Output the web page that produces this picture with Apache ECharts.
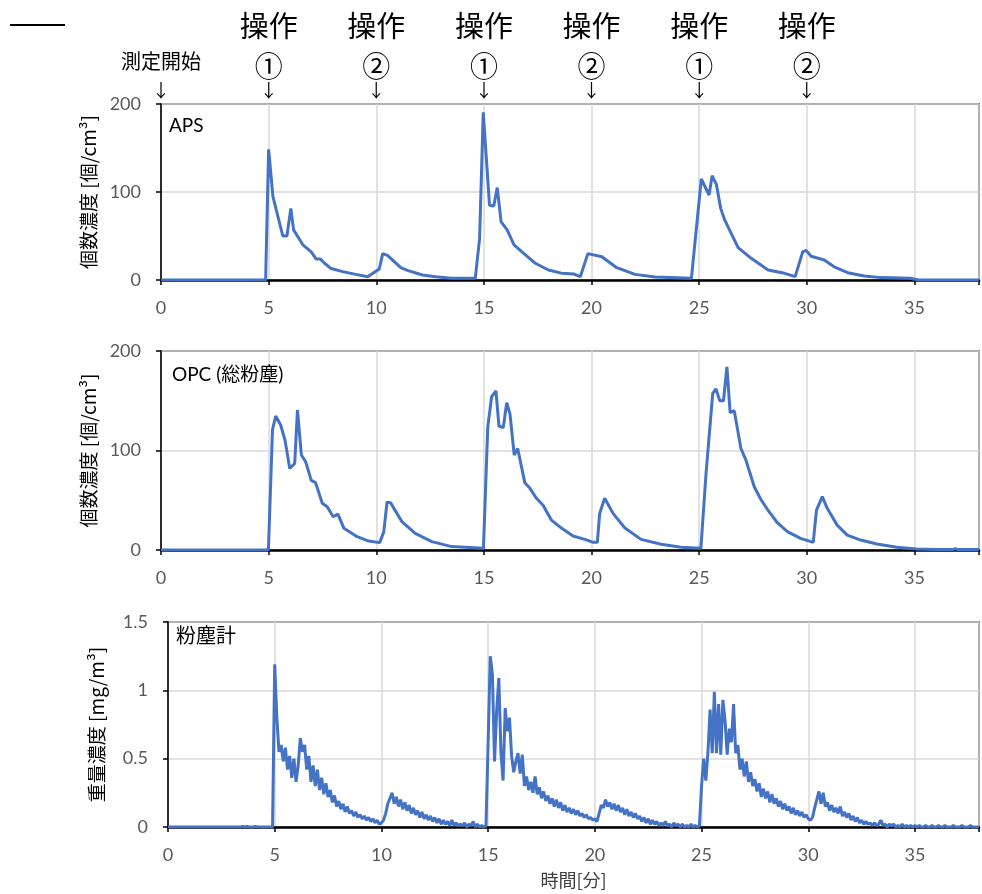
<!DOCTYPE html>
<html><head><meta charset="utf-8">
<script src="https://cdn.jsdelivr.net/npm/echarts@6/dist/echarts.min.js"></script>
<style>html,body{margin:0;padding:0;background:#fff}#c{width:982px;height:894px}</style>
</head><body><div id="c"></div>
<script>
// ---- annotations ----
const startTime = 0;
const startLabel = '測定開始';
const opTimes = [5, 10, 15, 20, 25, 30];
const opWord = '操作';
const opMarks = ['①', '②', '①', '②', '①', '②'];

// ---- panel texts ----
const panelTitles = ['APS', 'OPC (総粉塵)', '粉塵計'];
const yNames = ['個数濃度 [個/cm³]', '個数濃度 [個/cm³]', '重量濃度 [mg/m³]'];
const xName = '時間[分]';
const xTicks = [0, 5, 10, 15, 20, 25, 30, 35];

// ---- APS (個/cm3) ----
const apsTime = [0,4.86,5.0,5.2,5.66,5.85,6.03,6.16,6.59,6.98,7.2,7.4,7.6,7.9,8.44,9.06,9.6,10.14,10.3,10.52,11.14,11.45,12.14,12.76,13.5,14.6,14.8,14.97,15.26,15.46,15.62,15.8,16.08,16.4,16.77,17.39,18.0,18.6,19.17,19.48,19.83,20.48,21.17,22.02,22.95,24.64,25.1,25.46,25.6,25.8,26.0,26.19,26.81,27.42,28.2,28.97,29.46,29.81,29.97,30.2,30.81,31.27,31.9,32.67,33.44,34.8,35.2,38];
const apsValue = [0,0,148.5,94.7,50,50,81.4,57,40,32,24,24,19,13,9.5,6.4,3.8,12.5,30,28,14,11,5.7,3.8,2,2,47,190.5,85,84,105,66,57,40,32,19,11.4,7.8,6.8,3.8,30,26.5,14,6.4,3.4,1.9,114.8,96.6,118.5,108.7,81.4,68,36.7,24.6,11.4,7.6,3.8,32,33.7,27,22.7,15,8.3,4.5,2.7,1.9,0,0];

// ---- OPC total dust (個/cm3) ----
const opcTime = [0,4.99,5.18,5.33,5.56,5.76,5.98,6.21,6.34,6.52,6.72,6.98,7.18,7.49,7.72,8.0,8.22,8.5,9.11,9.65,10.16,10.35,10.5,10.66,11.19,11.81,12.58,13.5,14.98,15.18,15.36,15.56,15.7,15.9,16.06,16.21,16.41,16.57,16.9,17.14,17.44,17.75,18.14,18.6,19.14,19.69,20.07,20.27,20.38,20.61,21.0,21.54,22.3,23.23,24.16,25.08,25.32,25.63,25.78,25.96,26.13,26.29,26.44,26.63,26.94,27.17,27.56,27.86,28.17,28.63,29.1,29.71,30.3,30.45,30.72,30.95,31.41,31.88,32.5,33.26,34.18,35.1,36.0,36.8,36.9,37.0,38];
const opcValue = [0,0,121,134.7,125.6,110.5,82,87,140.7,95.5,88.7,70,67.7,47,43.5,33.5,36,21.8,13.4,9,7.4,18.4,48,47.6,28.5,16.7,8.4,3.4,1.7,124,154,159.8,124.6,123,148,137,95.5,102,67.7,62,52,45,30,22,14,10.7,7.7,7.7,36.8,52,36.8,22.4,10.7,5.7,2.7,1.7,77,157.5,161.8,150,150,184,138,140,102,90.5,63.6,51,40.9,27.4,18.4,11.7,7.7,40,53.6,41.9,25,15,10,6,2.7,1,0.5,0.5,1.5,0.5,0.5];

// ---- dust meter (mg/m3), sampled every 0.1 min from t = 0 ----
const dustStart = 0;
const dustStep = 0.1;
const dustValue = [
0,0,0,0,0,0,0,0,0,0,
0,0,0,0,0,0,0,0,0,0,
0,0,0,0,0,0,0,0,0,0,
0,0,0,0,0,0.005,0,0.005,0,0,
0,0.005,0,0,0,0,0,0,0,0,
1.19,0.80,0.55,0.60,0.48,0.58,0.42,0.52,0.36,0.50,
0.33,0.45,0.65,0.55,0.60,0.42,0.52,0.33,0.45,0.30,
0.42,0.27,0.36,0.24,0.32,0.22,0.27,0.18,0.23,0.15,
0.19,0.13,0.17,0.11,0.15,0.10,0.12,0.08,0.11,0.07,
0.09,0.06,0.08,0.05,0.07,0.04,0.06,0.03,0.05,0.02,
0.03,0.05,0.10,0.17,0.21,0.25,0.17,0.22,0.15,0.20,
0.13,0.18,0.12,0.16,0.10,0.14,0.09,0.12,0.07,0.11,
0.06,0.09,0.05,0.08,0.04,0.07,0.03,0.06,0.02,0.05,
0.02,0.04,0.01,0.05,0.01,0.03,0.01,0.02,0.01,0.03,
0,0.02,0.01,0.04,0,0.02,0,0.01,0,0.01,
0.62,1.25,1.12,0.48,0.85,1.09,0.55,0.34,0.87,0.70,
0.80,0.52,0.40,0.48,0.54,0.39,0.53,0.30,0.37,0.27,
0.33,0.25,0.37,0.24,0.29,0.21,0.26,0.19,0.23,0.17,
0.21,0.15,0.20,0.14,0.18,0.12,0.16,0.11,0.14,0.10,
0.13,0.09,0.12,0.08,0.10,0.07,0.09,0.06,0.07,0.05,
0.06,0.04,0.10,0.16,0.14,0.20,0.15,0.18,0.13,0.17,
0.12,0.16,0.11,0.14,0.09,0.13,0.08,0.11,0.07,0.10,
0.06,0.08,0.04,0.07,0.03,0.06,0.02,0.05,0.02,0.04,
0.01,0.03,0.01,0.04,0.01,0.02,0,0.03,0.01,0.02,
0,0.02,0,0.01,0,0.02,0,0.01,0,0.01,
0.30,0.50,0.34,0.55,0.86,0.54,0.99,0.54,0.90,0.53,
0.93,0.78,0.53,0.72,0.62,0.90,0.54,0.60,0.42,0.50,
0.37,0.48,0.33,0.40,0.30,0.35,0.26,0.32,0.22,0.28,
0.21,0.26,0.18,0.24,0.17,0.21,0.15,0.19,0.13,0.17,
0.12,0.15,0.10,0.14,0.09,0.12,0.08,0.11,0.07,0.09,
0.06,0.05,0.07,0.14,0.20,0.26,0.17,0.25,0.15,0.18,
0.12,0.16,0.11,0.14,0.10,0.15,0.08,0.11,0.07,0.10,
0.05,0.08,0.04,0.07,0.03,0.05,0.02,0.04,0.02,0.03,
0.01,0.03,0.01,0.02,0.05,0.01,0.02,0,0.02,0.01,
0.02,0,0.01,0,0.02,0,0.01,0,0.01,0,
0.01,0,0.01,0,0,0.01,0,0,0.01,0,
0,0.01,0,0,0.01,0,0,0,0.01,0,
0,0,0.01,0,0,0,0.01,0,0,0,
0
];

const LINE = '#4472C4';
const NUM_FONT = 'Lato, "Noto Sans CJK JP", sans-serif';
const JP_FONT = '"Noto Sans CJK JP", sans-serif';

const grids = [
  {left: 161, top: 104, width: 819, height: 176},
  {left: 161, top: 351, width: 824, height: 199},
  {left: 168, top: 622, width: 817, height: 205}
];
const yRanges = [[0, 200, 100], [0, 200, 100], [0, 1.5, 0.5]];
const titleTops = [[169, 116], [172, 365], [176, 627]];

const pairs = (t, v) => t.map((x, i) => [x, v[i]]);
const dustData = dustValue.map((v, i) => [+(dustStart + i * dustStep).toFixed(2), v]);
const seriesData = [pairs(apsTime, apsValue), pairs(opcTime, opcValue), dustData];

const xAxes = grids.map((g, i) => ({
  type: 'value', gridIndex: i, min: 0, max: 38, interval: 5,
  axisLine: {show: true, onZero: false, lineStyle: {color: '#000', width: 2.5}},
  axisTick: {show: true, length: 5, lineStyle: {color: '#000', width: 1.5}},
  axisLabel: {show: true, margin: 19, fontSize: 18, color: '#595959', fontFamily: NUM_FONT,
    formatter: v => xTicks.includes(v) ? String(v) : ''},
  splitLine: {show: true, lineStyle: {color: '#d9d9d9', width: 1.5}},
  name: i === 2 ? xName : '', nameLocation: 'middle', nameGap: 44,
  nameTextStyle: {fontSize: 18, color: '#404040', fontFamily: JP_FONT}
}));

// annotation axis on top of the first panel
const annot = {};
annot[startTime] = '{s|' + startLabel + '}\n{a|↓}';
opTimes.forEach((t, i) => { annot[t] = '{o|' + opWord + '}\n{c|' + opMarks[i] + '}\n{a|↓}'; });
xAxes.push({
  type: 'value', gridIndex: 0, position: 'top', min: 0, max: 38, interval: 5,
  axisLine: {show: false}, axisTick: {show: false}, splitLine: {show: false},
  axisLabel: {show: true, margin: 3, color: '#000', fontFamily: JP_FONT,
    formatter: v => annot[v] || '',
    rich: {
      o: {fontSize: 29, lineHeight: 54, fontFamily: JP_FONT, color: '#000'},
      c: {fontSize: 28, lineHeight: 26, fontFamily: JP_FONT, color: '#000'},
      s: {fontSize: 20, lineHeight: 36, fontFamily: JP_FONT, color: '#000'},
      a: {fontSize: 18, lineHeight: 22, fontFamily: JP_FONT, color: '#000'}
    }}
});

const yAxes = grids.map((g, i) => ({
  type: 'value', gridIndex: i, min: yRanges[i][0], max: yRanges[i][1], interval: yRanges[i][2],
  axisLine: {show: true, lineStyle: {color: '#000', width: 1.5}},
  axisTick: {show: true, length: 5, lineStyle: {color: '#000', width: 1.5}},
  axisLabel: {margin: 20, fontSize: 18, color: '#595959', fontFamily: NUM_FONT},
  splitLine: {show: true, lineStyle: {color: '#d9d9d9', width: 1.5}},
  name: yNames[i], nameLocation: 'middle', nameRotate: 90, nameGap: 62,
  nameTextStyle: {fontSize: 19, color: '#000', fontFamily: JP_FONT}
}));

const option = {
  animation: false,
  backgroundColor: '#fff',
  grid: grids.map(g => Object.assign({show: true, borderColor: '#000', borderWidth: 1.5, backgroundColor: 'transparent'}, g)),
  title: panelTitles.map((t, i) => ({
    text: t, left: titleTops[i][0], top: titleTops[i][1], padding: 0,
    textStyle: {fontSize: i === 2 ? 20 : 19, fontWeight: 'normal', color: '#000', fontFamily: 'Lato, "Noto Sans CJK JP", sans-serif'}
  })),
  xAxis: xAxes,
  yAxis: yAxes,
  series: seriesData.map((d, i) => ({
    type: 'line', xAxisIndex: i, yAxisIndex: i, data: d, showSymbol: false, symbol: 'none',
    lineStyle: {color: LINE, width: 3}, z: 3, clip: true
  })),
  graphic: [{type: 'line', shape: {x1: 10, y1: 25, x2: 65, y2: 25}, style: {stroke: '#000', lineWidth: 2}}]
};

const chart = echarts.init(document.getElementById('c'), null, {renderer: 'canvas'});
chart.setOption(option);
</script></body></html>
